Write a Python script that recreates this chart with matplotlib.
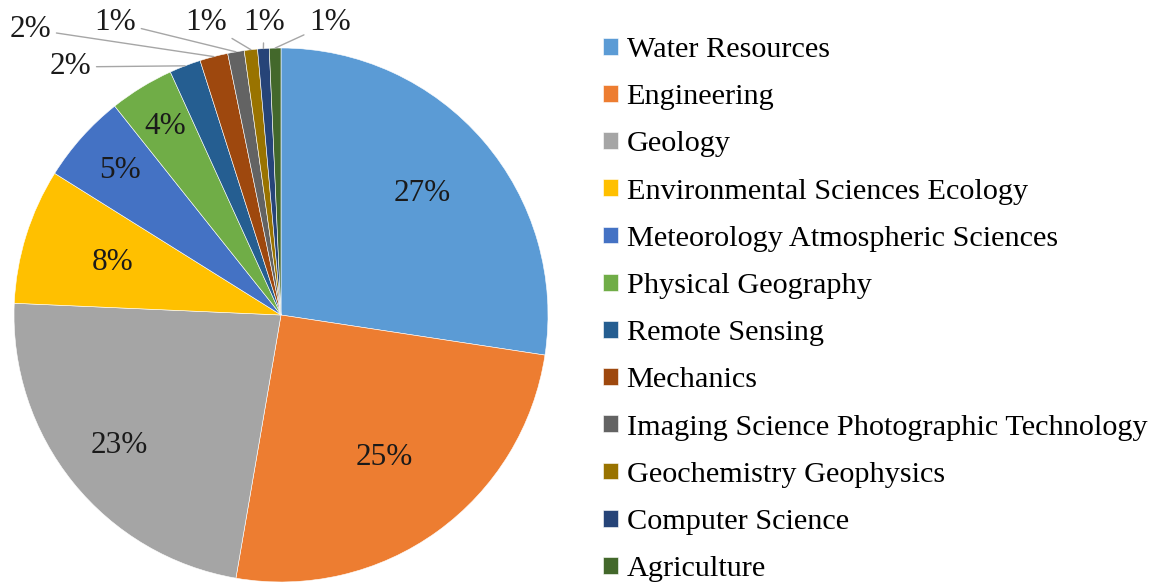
"""Pie chart of research subject categories (share of publications)."""
import numpy as np
import matplotlib
matplotlib.use("Agg")
import matplotlib.pyplot as plt

# ── Data ──────────────────────────────────────────────────────────────────────
CATEGORIES = [
    "Water Resources",
    "Engineering",
    "Geology",
    "Environmental Sciences Ecology",
    "Meteorology Atmospheric Sciences",
    "Physical Geography",
    "Remote Sensing",
    "Mechanics",
    "Imaging Science Photographic Technology",
    "Geochemistry Geophysics",
    "Computer Science",
    "Agriculture",
]
SHARES = [27.4, 25.3, 23.0, 8.2, 5.4, 3.9, 1.9, 1.7, 1.0, 0.8, 0.7, 0.7]

# Office palette
COLORS = ["#5B9BD5", "#ED7D31", "#A5A5A5", "#FFC000", "#4472C4", "#70AD47",
          "#255E91", "#9E480E", "#636363", "#997300", "#264478", "#43682B"]

# ── Label layout ──────────────────────────────────────────────────────────────
# inside labels: radial distance (fraction of radius); None -> outside label
INSIDE_R = [0.70, 0.66, 0.78, 0.66, 0.81, 0.83, None, None, None, None, None, None]
# outside label text positions (data coords, radius = 1)
OUTSIDE_POS = {
    6: (-0.790, 0.929),
    7: (-0.940, 1.071),
    8: (-0.622, 1.097),
    9: (-0.281, 1.094),
    10: (-0.064, 1.094),
    11: (0.184, 1.094),
}

FONT = "Liberation Serif"
FS_PIE = 22.5
FS_LEG = 21.8


def main():
    fig = plt.figure(figsize=(11.61, 5.84), dpi=100)
    ax = fig.add_axes([14 / 1161, 2 / 584, 534 / 1161, 534 / 584])

    wedges, _ = ax.pie(SHARES, colors=COLORS, startangle=90, counterclock=False,
                       wedgeprops=dict(linewidth=0.4, edgecolor="white"))
    ax.set_xlim(-1, 1)
    ax.set_ylim(-1, 1)
    ax.set_aspect("auto")
    ax.axis("off")

    total = sum(SHARES)
    for i, (w, v) in enumerate(zip(wedges, SHARES)):
        mid = np.deg2rad((w.theta1 + w.theta2) / 2)
        label = f"{round(v / total * 100)}%"
        if INSIDE_R[i] is not None:
            r = INSIDE_R[i]
            ax.text(r * np.cos(mid), r * np.sin(mid), label, ha="center",
                    va="center", fontsize=FS_PIE, family=FONT, color="#1a1a1a")
        else:
            tx, ty = OUTSIDE_POS[i]
            ex, ey = np.cos(mid), np.sin(mid)
            ax.annotate(label, xy=(ex, ey), xytext=(tx, ty), ha="center",
                        va="center", fontsize=FS_PIE, family=FONT,
                        color="#1a1a1a", annotation_clip=False,
                        arrowprops=dict(arrowstyle="-", color="#A6A6A6", lw=1,
                                        shrinkA=2, shrinkB=0))

    fig.legend(wedges, CATEGORIES, loc="upper left",
               bbox_to_anchor=(603 / 1161, 1 - 37 / 584), frameon=False,
               prop=dict(family=FONT, size=FS_LEG), handlelength=0.48,
               handleheight=0.48, handletextpad=0.3, labelspacing=0.70,
               borderaxespad=0, borderpad=0)

    fig.savefig("out.png", dpi=100)
    plt.close(fig)


if __name__ == "__main__":
    main()
